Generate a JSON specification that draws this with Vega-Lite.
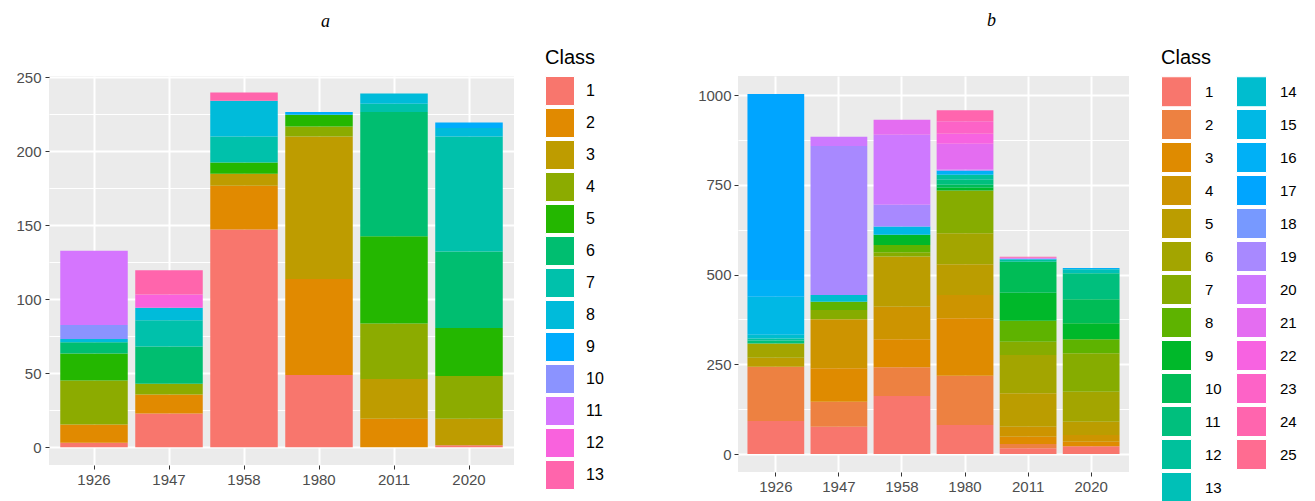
{
  "$schema": "https://vega.github.io/schema/vega-lite/v6.json",
  "background": "white",
  "padding": {"left": 15, "top": 12, "right": 0, "bottom": 0},
  "datasets": {
    "a": [
      {"Year": "1926", "Class": 1, "Count": 3},
      {"Year": "1926", "Class": 2, "Count": 12.3},
      {"Year": "1926", "Class": 4, "Count": 29.8},
      {"Year": "1926", "Class": 5, "Count": 18.2},
      {"Year": "1926", "Class": 6, "Count": 7.7},
      {"Year": "1926", "Class": 8, "Count": 2.2},
      {"Year": "1926", "Class": 10, "Count": 9.5},
      {"Year": "1926", "Class": 11, "Count": 50.2},
      {"Year": "1947", "Class": 1, "Count": 22.8},
      {"Year": "1947", "Class": 2, "Count": 12.8},
      {"Year": "1947", "Class": 4, "Count": 7.4},
      {"Year": "1947", "Class": 6, "Count": 25.2},
      {"Year": "1947", "Class": 7, "Count": 17.6},
      {"Year": "1947", "Class": 8, "Count": 8.6},
      {"Year": "1947", "Class": 12, "Count": 8.8},
      {"Year": "1947", "Class": 13, "Count": 16.4},
      {"Year": "1958", "Class": 1, "Count": 147.3},
      {"Year": "1958", "Class": 2, "Count": 29.5},
      {"Year": "1958", "Class": 3, "Count": 8.1},
      {"Year": "1958", "Class": 5, "Count": 7.7},
      {"Year": "1958", "Class": 7, "Count": 17.5},
      {"Year": "1958", "Class": 8, "Count": 24.2},
      {"Year": "1958", "Class": 13, "Count": 5.6},
      {"Year": "1980", "Class": 1, "Count": 48.9},
      {"Year": "1980", "Class": 2, "Count": 64.9},
      {"Year": "1980", "Class": 3, "Count": 96.3},
      {"Year": "1980", "Class": 4, "Count": 6.8},
      {"Year": "1980", "Class": 5, "Count": 7.9},
      {"Year": "1980", "Class": 9, "Count": 1.8},
      {"Year": "2011", "Class": 2, "Count": 19.2},
      {"Year": "2011", "Class": 3, "Count": 27},
      {"Year": "2011", "Class": 4, "Count": 37.4},
      {"Year": "2011", "Class": 5, "Count": 59},
      {"Year": "2011", "Class": 6, "Count": 84},
      {"Year": "2011", "Class": 7, "Count": 5.6},
      {"Year": "2011", "Class": 8, "Count": 7},
      {"Year": "2020", "Class": 1, "Count": 1.4},
      {"Year": "2020", "Class": 3, "Count": 17.8},
      {"Year": "2020", "Class": 4, "Count": 29},
      {"Year": "2020", "Class": 5, "Count": 32.5},
      {"Year": "2020", "Class": 6, "Count": 51.7},
      {"Year": "2020", "Class": 7, "Count": 77.7},
      {"Year": "2020", "Class": 8, "Count": 5.7},
      {"Year": "2020", "Class": 9, "Count": 3.8}
    ],
    "b": [
      {"Year": "1926", "Class": 1, "Count": 92},
      {"Year": "1926", "Class": 2, "Count": 151},
      {"Year": "1926", "Class": 5, "Count": 25},
      {"Year": "1926", "Class": 6, "Count": 40},
      {"Year": "1926", "Class": 11, "Count": 8},
      {"Year": "1926", "Class": 12, "Count": 6},
      {"Year": "1926", "Class": 14, "Count": 10},
      {"Year": "1926", "Class": 15, "Count": 106},
      {"Year": "1926", "Class": 16, "Count": 47},
      {"Year": "1926", "Class": 17, "Count": 518},
      {"Year": "1947", "Class": 1, "Count": 76},
      {"Year": "1947", "Class": 2, "Count": 70},
      {"Year": "1947", "Class": 3, "Count": 93},
      {"Year": "1947", "Class": 4, "Count": 136.5},
      {"Year": "1947", "Class": 7, "Count": 26},
      {"Year": "1947", "Class": 8, "Count": 23},
      {"Year": "1947", "Class": 14, "Count": 18.6},
      {"Year": "1947", "Class": 19, "Count": 415},
      {"Year": "1947", "Class": 20, "Count": 25.6},
      {"Year": "1958", "Class": 1, "Count": 161.6},
      {"Year": "1958", "Class": 2, "Count": 80},
      {"Year": "1958", "Class": 3, "Count": 78},
      {"Year": "1958", "Class": 4, "Count": 91},
      {"Year": "1958", "Class": 5, "Count": 139.5},
      {"Year": "1958", "Class": 7, "Count": 12},
      {"Year": "1958", "Class": 8, "Count": 20.5},
      {"Year": "1958", "Class": 9, "Count": 28},
      {"Year": "1958", "Class": 15, "Count": 23},
      {"Year": "1958", "Class": 19, "Count": 60.5},
      {"Year": "1958", "Class": 20, "Count": 195},
      {"Year": "1958", "Class": 21, "Count": 42},
      {"Year": "1980", "Class": 1, "Count": 80.8},
      {"Year": "1980", "Class": 2, "Count": 137.4},
      {"Year": "1980", "Class": 3, "Count": 160},
      {"Year": "1980", "Class": 4, "Count": 65},
      {"Year": "1980", "Class": 5, "Count": 85.6},
      {"Year": "1980", "Class": 6, "Count": 86},
      {"Year": "1980", "Class": 7, "Count": 119},
      {"Year": "1980", "Class": 9, "Count": 8},
      {"Year": "1980", "Class": 10, "Count": 8},
      {"Year": "1980", "Class": 11, "Count": 14},
      {"Year": "1980", "Class": 12, "Count": 14},
      {"Year": "1980", "Class": 16, "Count": 12},
      {"Year": "1980", "Class": 20, "Count": 3},
      {"Year": "1980", "Class": 21, "Count": 71.5},
      {"Year": "1980", "Class": 22, "Count": 28},
      {"Year": "1980", "Class": 23, "Count": 35},
      {"Year": "1980", "Class": 24, "Count": 30},
      {"Year": "2011", "Class": 1, "Count": 16},
      {"Year": "2011", "Class": 2, "Count": 12},
      {"Year": "2011", "Class": 3, "Count": 20},
      {"Year": "2011", "Class": 4, "Count": 28},
      {"Year": "2011", "Class": 5, "Count": 93},
      {"Year": "2011", "Class": 6, "Count": 107},
      {"Year": "2011", "Class": 7, "Count": 37},
      {"Year": "2011", "Class": 8, "Count": 58.5},
      {"Year": "2011", "Class": 9, "Count": 78},
      {"Year": "2011", "Class": 10, "Count": 86},
      {"Year": "2011", "Class": 12, "Count": 6.5},
      {"Year": "2011", "Class": 16, "Count": 2},
      {"Year": "2011", "Class": 20, "Count": 2.5},
      {"Year": "2011", "Class": 24, "Count": 3},
      {"Year": "2020", "Class": 1, "Count": 22},
      {"Year": "2020", "Class": 3, "Count": 12},
      {"Year": "2020", "Class": 4, "Count": 19},
      {"Year": "2020", "Class": 5, "Count": 37},
      {"Year": "2020", "Class": 6, "Count": 83.6},
      {"Year": "2020", "Class": 7, "Count": 107},
      {"Year": "2020", "Class": 8, "Count": 39},
      {"Year": "2020", "Class": 9, "Count": 44.6},
      {"Year": "2020", "Class": 10, "Count": 67},
      {"Year": "2020", "Class": 11, "Count": 72.6},
      {"Year": "2020", "Class": 13, "Count": 11},
      {"Year": "2020", "Class": 16, "Count": 3.5}
    ]
  },
  "hconcat": [
    {
      "width": 465,
      "height": 389,
      "data": {"name": "a"},
      "title": {"text": "a", "font": "Liberation Serif", "fontStyle": "italic", "fontWeight": "normal", "fontSize": 18, "color": "black", "anchor": "middle", "frame": "group", "dx": 44, "offset": 17},
      "mark": {"type": "bar"},
      "encoding": {
        "x": {
          "field": "Year", "type": "nominal",
          "scale": {"paddingInner": 0.1, "paddingOuter": 0.15},
          "axis": {"title": null, "labelAngle": 0, "bandPosition": 0.5, "grid": true, "gridColor": "white", "gridWidth": 2, "domain": false, "tickColor": "#333333", "tickSize": 4, "tickWidth": 1, "labelPadding": 3, "labelColor": "#4D4D4D", "labelFont": "Liberation Sans", "labelFontSize": 15}
        },
        "y": {
          "field": "Count", "type": "quantitative", "stack": "zero",
          "scale": {"domain": [-12, 251], "nice": false, "zero": false},
          "axis": {
            "title": null,
            "values": [0, 25, 50, 75, 100, 125, 150, 175, 200, 225, 250],
            "labelExpr": "datum.value % 50 === 0 ? datum.label : ''",
            "labelOverlap": false,
            "grid": true, "gridColor": "white",
            "gridWidth": {"condition": {"test": "datum.value % 50 === 0", "value": 2}, "value": 1},
            "tickOpacity": {"condition": {"test": "datum.value % 50 === 0", "value": 1}, "value": 0},
            "domain": false, "tickColor": "#333333", "tickSize": 4, "tickWidth": 1, "labelPadding": 4,
            "labelColor": "#4D4D4D", "labelFont": "Liberation Sans", "labelFontSize": 15
          }
        },
        "color": {
          "field": "Class", "type": "ordinal",
          "scale": {
            "domain": [1, 2, 3, 4, 5, 6, 7, 8, 9, 10, 11, 12, 13],
            "range": ["#F8766D", "#E18A00", "#BE9C00", "#8CAB00", "#24B700", "#00BE70", "#00C1AB", "#00BBDA", "#00ACFC", "#8B93FF", "#D575FE", "#F962DD", "#FF65AC"]
          },
          "legend": {"title": "Class", "orient": "none", "legendX": 496, "legendY": -28, "columns": 1, "symbolSize": 841, "rowPadding": -3.4, "labelOffset": 11, "labelFontSize": 16}
        },
        "order": {"field": "Class", "type": "quantitative", "sort": "ascending"}
      }
    },
    {
      "width": 391,
      "height": 396,
      "data": {"name": "b"},
      "title": {"text": "b", "font": "Liberation Serif", "fontStyle": "italic", "fontWeight": "normal", "fontSize": 18, "color": "black", "anchor": "middle", "frame": "group", "dx": 58, "offset": 18},
      "mark": {"type": "bar"},
      "encoding": {
        "x": {
          "field": "Year", "type": "nominal",
          "scale": {"paddingInner": 0.1, "paddingOuter": 0.15},
          "axis": {"title": null, "labelAngle": 0, "bandPosition": 0.5, "grid": true, "gridColor": "white", "gridWidth": 2, "domain": false, "tickColor": "#333333", "tickSize": 4, "tickWidth": 1, "labelPadding": 3, "labelColor": "#4D4D4D", "labelFont": "Liberation Sans", "labelFontSize": 15}
        },
        "y": {
          "field": "Count", "type": "quantitative", "stack": "zero",
          "scale": {"domain": [-50, 1053], "nice": false, "zero": false},
          "axis": {
            "title": null,
            "values": [0, 125, 250, 375, 500, 625, 750, 875, 1000],
            "labelExpr": "datum.value % 250 === 0 ? datum.label : ''",
            "labelOverlap": false,
            "format": "d",
            "grid": true, "gridColor": "white",
            "gridWidth": {"condition": {"test": "datum.value % 250 === 0", "value": 2}, "value": 1},
            "tickOpacity": {"condition": {"test": "datum.value % 250 === 0", "value": 1}, "value": 0},
            "domain": false, "tickColor": "#333333", "tickSize": 4, "tickWidth": 1, "labelPadding": 3,
            "labelColor": "#4D4D4D", "labelFont": "Liberation Sans", "labelFontSize": 15
          }
        },
        "color": {
          "field": "Class", "type": "ordinal",
          "scale": {
            "domain": [1, 2, 3, 4, 5, 6, 7, 8, 9, 10, 11, 12, 13, 14, 15, 16, 17, 18, 19, 20, 21, 22, 23, 24, 25],
            "range": ["#F8766D", "#ED8141", "#DF8B00", "#CD9400", "#BB9D00", "#A3A500", "#86AC00", "#5EB300", "#00B82A", "#00BC56", "#00BF7D", "#00C19C", "#00C0B7", "#00BDCF", "#00B8E5", "#00B0F6", "#00A5FF", "#7799FF", "#A889FF", "#CE79FF", "#E46DF1", "#F763E1", "#FD63C7", "#FF65AE", "#FF6C91"]
          },
          "legend": {"title": "Class", "orient": "none", "legendX": 423, "legendY": -28, "columns": 2, "columnPadding": 12, "symbolSize": 900, "rowPadding": -2.1, "labelOffset": 13, "labelFontSize": 15}
        },
        "order": {"field": "Class", "type": "quantitative", "sort": "ascending"}
      }
    }
  ],
  "resolve": {"scale": {"color": "independent", "x": "independent", "y": "independent"}, "legend": {"color": "independent"}},
  "spacing": 93,
  "config": {
    "view": {"fill": "#EBEBEB", "stroke": null},
    "legend": {
      "symbolType": "square", "symbolStrokeColor": "white", "symbolStrokeWidth": 1, "symbolOpacity": 1,
      "titleFont": "Liberation Sans", "titleFontSize": 20, "titleFontWeight": "normal", "titleColor": "black", "titlePadding": 8,
      "labelFont": "Liberation Sans", "labelColor": "black", "padding": 0
    }
  }
}
